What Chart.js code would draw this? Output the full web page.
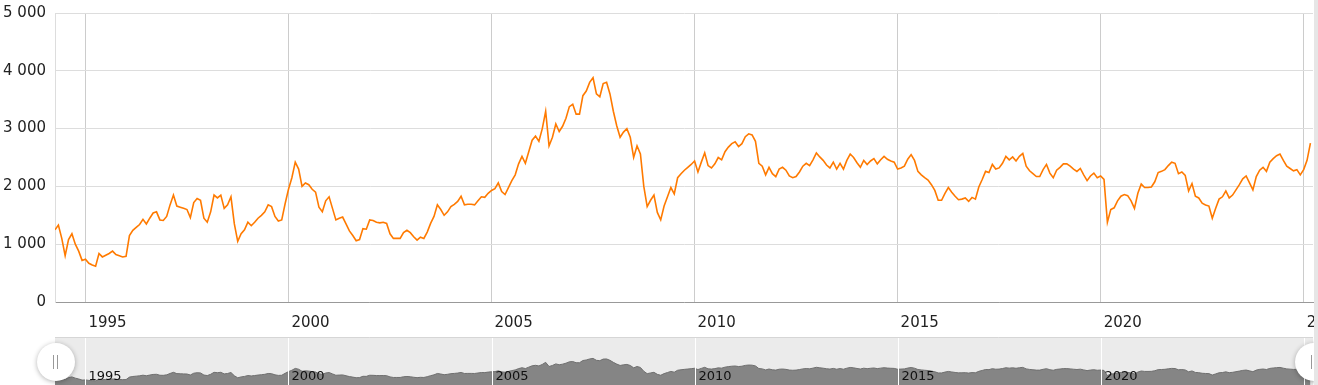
<!DOCTYPE html>
<html>
<head>
<meta charset="utf-8">
<script src="https://cdn.jsdelivr.net/npm/chart.js@4.4.1/dist/chart.umd.min.js"></script>
<style>
    html, body { margin: 0; padding: 0; background: #fff; }
    #wrap { position: relative; width: 1318px; height: 385px; overflow: hidden; }
    #mainChart { position: absolute; left: 0; top: 0; }
    #navChart { position: absolute; left: 0; top: 335px; }
</style>
</head>
<body>
<div id="wrap">
    <canvas id="mainChart" width="1318" height="335"></canvas>
    <canvas id="navChart" width="1318" height="50"></canvas>
</div>
<script>
// first month of the series, one value per month after it
const firstMonth = { year: 1994, month: 4 };

const monthlyValues = [
    1250, 1330, 1100, 800, 1080, 1180, 1000, 880, 720,                   // 1994 (avr-déc)
    740, 670, 640, 620, 840, 780, 810, 840, 880, 820, 800, 780,          // 1995
    790, 1150, 1240, 1290, 1340, 1430, 1350, 1450, 1540, 1560, 1420, 1410, // 1996
    1480, 1680, 1850, 1660, 1640, 1620, 1600, 1460, 1720, 1790, 1760, 1450, // 1997
    1380, 1560, 1850, 1800, 1850, 1620, 1680, 1820, 1350, 1050, 1180, 1250, // 1998
    1380, 1320, 1380, 1450, 1500, 1560, 1680, 1650, 1480, 1400, 1420, 1700, // 1999
    1950, 2150, 2420, 2300, 2000, 2060, 2030, 1950, 1900, 1640, 1560, 1750, // 2000
    1820, 1620, 1420, 1450, 1470, 1350, 1230, 1150, 1060, 1080, 1270, 1260, // 2001
    1420, 1410, 1380, 1370, 1380, 1360, 1180, 1100, 1100, 1100, 1200, 1240, // 2002
    1200, 1130, 1070, 1120, 1100, 1210, 1360, 1480, 1680, 1600, 1500, 1560, // 2003
    1650, 1690, 1740, 1830, 1680, 1690, 1690, 1680, 1750, 1820, 1810, 1880, // 2004
    1930, 1960, 2060, 1910, 1860, 1980, 2100, 2200, 2390, 2520, 2400, 2600, // 2005
    2800, 2870, 2780, 3000, 3300, 2700, 2850, 3080, 2950, 3040, 3180, 3380, // 2006
    3420, 3250, 3250, 3570, 3650, 3800, 3880, 3600, 3550, 3780, 3800, 3600, // 2007
    3300, 3050, 2850, 2940, 3000, 2850, 2500, 2700, 2560, 2000, 1650, 1760, // 2008
    1850, 1550, 1420, 1660, 1820, 1980, 1870, 2150, 2220, 2280, 2330, 2380, // 2009
    2440, 2250, 2420, 2580, 2360, 2320, 2390, 2500, 2460, 2600, 2680, 2740, // 2010
    2770, 2690, 2740, 2860, 2910, 2890, 2780, 2400, 2350, 2200, 2330, 2220, // 2011
    2170, 2300, 2330, 2280, 2180, 2150, 2170, 2250, 2350, 2400, 2360, 2460, // 2012
    2580, 2510, 2450, 2370, 2320, 2420, 2300, 2400, 2300, 2450, 2560, 2500, // 2013
    2410, 2330, 2450, 2380, 2440, 2480, 2390, 2460, 2520, 2470, 2440, 2420, // 2014
    2300, 2320, 2350, 2470, 2550, 2450, 2260, 2200, 2150, 2110, 2030, 1930, // 2015
    1760, 1760, 1880, 1980, 1900, 1830, 1770, 1780, 1800, 1740, 1810, 1780, // 2016
    1990, 2120, 2260, 2240, 2380, 2300, 2320, 2400, 2520, 2460, 2510, 2440, // 2017
    2520, 2570, 2350, 2270, 2220, 2170, 2170, 2290, 2380, 2230, 2150, 2280, // 2018
    2330, 2390, 2390, 2350, 2300, 2260, 2310, 2200, 2100, 2180, 2230, 2150, // 2019
    2180, 2120, 1380, 1600, 1630, 1750, 1830, 1860, 1840, 1750, 1620, 1880, // 2020
    2040, 1980, 1980, 1990, 2080, 2240, 2260, 2290, 2360, 2420, 2400, 2220, // 2021
    2250, 2190, 1920, 2050, 1830, 1800, 1710, 1680, 1660, 1450, 1620, 1780, // 2022
    1820, 1920, 1800, 1850, 1940, 2030, 2130, 2180, 2060, 1940, 2170, 2280, // 2023
    2330, 2260, 2420, 2480, 2530, 2560, 2450, 2350, 2310, 2270, 2290, 2200, // 2024
    2290, 2450, 2750                                                     // 2025 (jan-mar)
];

const yearTicks = [1995, 2000, 2005, 2010, 2015, 2020, 2025];
const valueTicks = [0, 1000, 2000, 3000, 4000, 5000];
const xRange = { min: 1994.25, max: 2025.23 };

const FONT = "'DejaVu Sans', Verdana, sans-serif";

function thousands(v) {
    return String(v).replace(/\B(?=(\d{3})+(?!\d))/g, " ");
}

class PriceChartPage {
    constructor() {
        this.charts = {};
        this.points = monthlyValues.map((v, i) => ({
            x: firstMonth.year + (firstMonth.month - 1 + i) / 12,
            y: v
        }));
        this.init();
    }

    init() {
        this.createMainChart();
        this.createNavigator();
    }

    // ============================================================
    //  MAIN CHART
    // ============================================================

    createMainChart() {
        const el = document.getElementById("mainChart");

        const rightEdge = {
            id: "rightEdge",
            afterDraw(chart) {
                const ctx = chart.ctx;
                ctx.save();
                ctx.fillStyle = "#e6e6e6";
                ctx.fillRect(1314, 0, 4, chart.height);
                ctx.restore();
            }
        };

        this.charts.main = new Chart(el, {
            type: "line",
            data: {
                datasets: [{
                    data: this.points,
                    borderColor: "#ff7a00",
                    borderWidth: 1.6,
                    pointRadius: 0,
                    tension: 0,
                    fill: false
                }]
            },
            options: {
                responsive: false,
                animation: false,
                devicePixelRatio: 1,
                layout: { padding: { top: 13, right: 5, left: 0, bottom: 0 } },
                plugins: { legend: { display: false }, tooltip: { enabled: false } },
                scales: {
                    x: {
                        type: "linear",
                        min: xRange.min,
                        max: xRange.max,
                        afterBuildTicks: s => { s.ticks = yearTicks.map(v => ({ value: v })); },
                        afterFit: s => { s.height = 33; s.paddingLeft = 0; s.paddingRight = 0; },
                        ticks: {
                            align: "start",
                            labelOffset: 3,
                            padding: 12,
                            maxRotation: 0,
                            autoSkip: false,
                            color: "#222",
                            font: { family: FONT, size: 15 },
                            callback: v => String(v)
                        },
                        grid: { color: "#cccccc", drawTicks: false },
                        border: { color: "#999999" }
                    },
                    y: {
                        min: 0,
                        max: 5000,
                        afterBuildTicks: s => { s.ticks = valueTicks.map(v => ({ value: v })); },
                        afterFit: s => { s.width = 55; s.paddingTop = 0; s.paddingBottom = 0; },
                        ticks: {
                            padding: 9,
                            color: "#222",
                            font: { family: FONT, size: 15 },
                            callback: v => thousands(v)
                        },
                        grid: { color: "#dddddd", drawTicks: false },
                        border: { color: "#dddddd" }
                    }
                }
            },
            plugins: [rightEdge]
        });
    }

    // ============================================================
    //  NAVIGATOR
    // ============================================================

    createNavigator() {
        const el = document.getElementById("navChart");

        const navDecor = {
            id: "navDecor",
            beforeDatasetsDraw(chart) {
                const { ctx, chartArea: a } = chart;
                ctx.save();
                ctx.fillStyle = "#ebebeb";
                ctx.fillRect(a.left, a.top, a.right - a.left, a.bottom - a.top);
                ctx.strokeStyle = "#d6d6d6";
                ctx.lineWidth = 1;
                ctx.beginPath();
                ctx.moveTo(a.left, a.top + 0.5);
                ctx.lineTo(a.right, a.top + 0.5);
                ctx.stroke();
                ctx.restore();
            },
            afterDatasetsDraw(chart) {
                const { ctx, chartArea: a } = chart;
                const xs = chart.scales.x;
                ctx.save();
                ctx.strokeStyle = "#ffffff";
                ctx.lineWidth = 1;
                ctx.fillStyle = "#111";
                ctx.font = "13px " + FONT;
                ctx.textBaseline = "alphabetic";
                ctx.textAlign = "left";
                yearTicks.forEach(yr => {
                    const px = Math.round(xs.getPixelForValue(yr)) + 0.5;
                    ctx.beginPath();
                    ctx.moveTo(px, a.top + 1);
                    ctx.lineTo(px, a.bottom);
                    ctx.stroke();
                    ctx.fillText(String(yr), px + 3, 45);
                });

                // poignées
                [xs.left, xs.right].forEach(hx => {
                    ctx.save();
                    ctx.shadowColor = "rgba(0,0,0,0.3)";
                    ctx.shadowBlur = 5;
                    ctx.shadowOffsetY = 1;
                    ctx.fillStyle = "#ffffff";
                    ctx.beginPath();
                    ctx.arc(hx + 1, 27, 19, 0, Math.PI * 2);
                    ctx.fill();
                    ctx.restore();
                    ctx.strokeStyle = "#999";
                    ctx.beginPath();
                    ctx.moveTo(Math.round(hx) - 1.5, 20);
                    ctx.lineTo(Math.round(hx) - 1.5, 34);
                    ctx.moveTo(Math.round(hx) + 2.5, 20);
                    ctx.lineTo(Math.round(hx) + 2.5, 34);
                    ctx.stroke();
                });

                ctx.fillStyle = "#e6e6e6";
                ctx.fillRect(1314, 0, 4, chart.height);
                ctx.restore();
            }
        };

        this.charts.nav = new Chart(el, {
            type: "line",
            data: {
                datasets: [{
                    data: this.points,
                    borderColor: "#6f6f6f",
                    borderWidth: 1,
                    backgroundColor: "#858585",
                    pointRadius: 0,
                    tension: 0,
                    fill: "start"
                }]
            },
            options: {
                responsive: false,
                animation: false,
                devicePixelRatio: 1,
                layout: { padding: { top: 2, right: 5, left: 55, bottom: 0 } },
                plugins: { legend: { display: false }, tooltip: { enabled: false } },
                scales: {
                    x: { type: "linear", display: false, min: xRange.min, max: xRange.max },
                    y: { display: false, min: 0, max: 7000 }
                }
            },
            plugins: [navDecor]
        });
    }
}

document.addEventListener("DOMContentLoaded", () => {
    window.priceChartPage = new PriceChartPage();
});
</script>
</body>
</html>
